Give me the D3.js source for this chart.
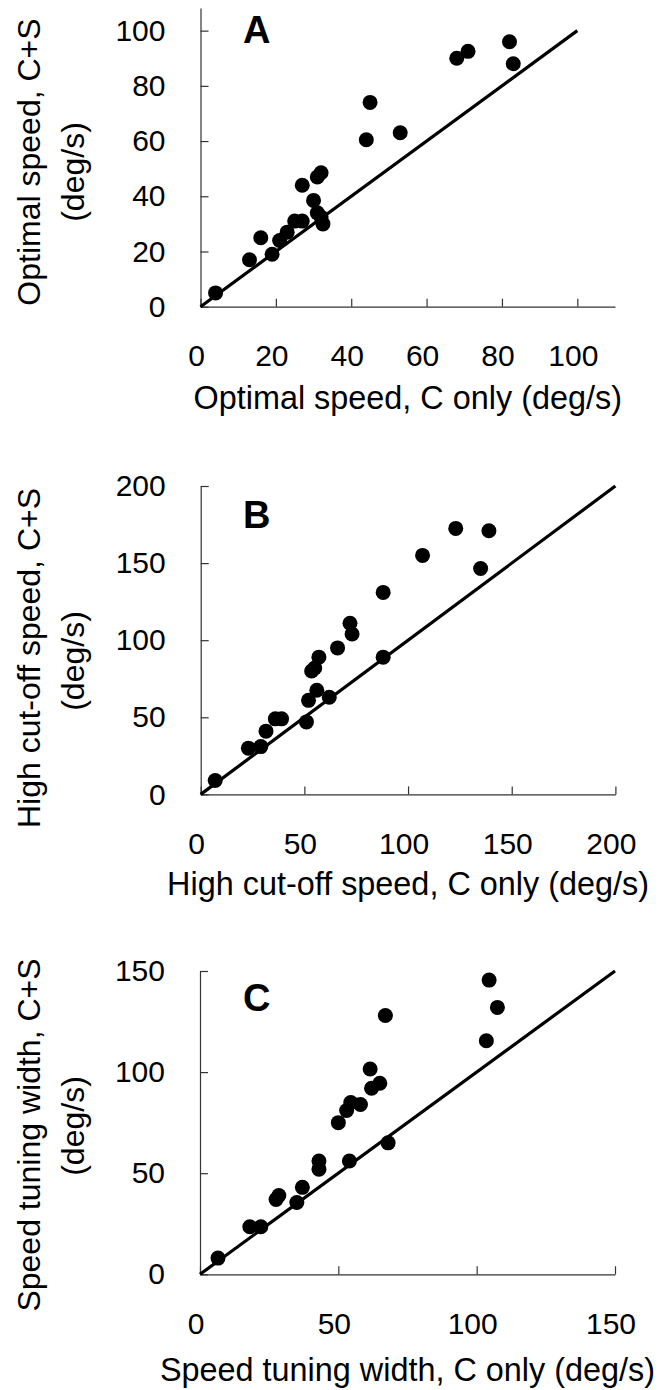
<!DOCTYPE html>
<html>
<head>
<meta charset="utf-8">
<script src="https://cdn.jsdelivr.net/npm/d3@7"></script>
<style>
  body { margin: 0; background: #fff; }
  svg { display: block; font-family: "Liberation Sans", Arial, Helvetica, sans-serif; }
  .axis path, .axis line { stroke: #333; stroke-width: 1.2; }
  .axis text { font-size: 30px; fill: #000; }
</style>
</head>
<body>
<svg id="chart" width="658" height="1390"></svg>
<script>
// --- data ---
var optC  = [4, 13, 16, 19, 21, 23, 25, 27, 27, 30, 31, 32, 31, 32.5, 32, 44, 45, 53, 68, 71, 82, 83];
var optCS = [5, 17, 25, 19, 24, 27, 31, 31, 44, 38.5, 47, 48.5, 34, 30, 32.5, 60.5, 74, 63, 90, 92.5, 96, 88];

var cutC  = [7, 23, 29, 31.5, 36, 39, 51, 52, 56, 62, 53.5, 55, 57, 66, 72, 73, 88, 88, 107, 123, 135, 139];
var cutCS = [9, 30, 31, 41, 49, 49, 47, 61, 67.5, 63, 80, 82, 89, 95, 111, 104, 89, 131, 155, 172.5, 146.5, 171];

var widthC  = [6.5, 18, 22, 27.5, 28.5, 35, 37, 43, 43, 54, 68, 50, 53, 54.5, 58, 62, 65, 61.5, 67, 103.5, 104.5, 107.5];
var widthCS = [8, 23.5, 23.5, 37, 39, 35.5, 43, 56, 52, 56, 65, 75, 81, 85, 84, 92, 94.5, 101.5, 128, 115.5, 145.5, 132];

var ticksA = [0, 20, 40, 60, 80, 100];
var ticksB = [0, 50, 100, 150, 200];
var ticksC = [0, 50, 100, 150];

var letters = ["A", "B", "C"];
var xTitles = ["Optimal speed, C only (deg/s)", "High cut-off speed, C only (deg/s)", "Speed tuning width, C only (deg/s)"];
var yTitles = [["Optimal speed, C+S", "(deg/s)"], ["High cut-off speed, C+S", "(deg/s)"], ["Speed tuning width, C+S", "(deg/s)"]];
var xMax = [110, 200, 150];
var yMax = [108.2, 200, 150];
var unityMax = [100, 200, 150];

// --- layout (pixels) ---
var panels = [
  { xs: optC, ys: optCS, ticks: ticksA, left: 200.5, right: 615, top: 8, bottom: 306.7, letterY: 43, t1: 162, t2: 172, xTitleY: 409 },
  { xs: cutC, ys: cutCS, ticks: ticksB, left: 200.7, right: 615.4, top: 486, bottom: 794.4, letterY: 528, t1: 658, t2: 661, xTitleY: 895 },
  { xs: widthC, ys: widthCS, ticks: ticksC, left: 200, right: 615, top: 971, bottom: 1274.3, letterY: 1011, t1: 1135, t2: 1126, xTitleY: 1381 }
];

var svg = d3.select("#chart");
svg.append("rect").attr("width", 658).attr("height", 1390).attr("fill", "#fff");

panels.forEach(function(p, k) {
  var x = d3.scaleLinear().domain([0, xMax[k]]).range([p.left, p.right]);
  var y = d3.scaleLinear().domain([0, yMax[k]]).range([p.bottom, p.top]);
  var g = svg.append("g");

  // axes, ticks pointing inward
  g.append("g").attr("class", "axis")
    .attr("transform", "translate(0," + p.bottom + ")")
    .call(d3.axisBottom(x).tickValues(p.ticks).tickSize(-8).tickSizeOuter(0).tickPadding(38))
    .selectAll("text").attr("dx", -4.5);

  g.append("g").attr("class", "axis")
    .attr("transform", "translate(" + p.left + ",0)")
    .call(d3.axisLeft(y).tickValues(p.ticks).tickSize(-8).tickSizeOuter(0).tickPadding(35));

  // unity line
  var line = d3.line().x(function(d) { return x(d); }).y(function(d) { return y(d); });
  g.append("path")
    .datum([0, unityMax[k]])
    .attr("d", line)
    .attr("fill", "none")
    .attr("stroke", "#000")
    .attr("stroke-width", 3.2);

  // points
  g.selectAll("circle")
    .data(d3.range(p.xs.length))
    .enter().append("circle")
      .attr("cx", function(i) { return x(p.xs[i]); })
      .attr("cy", function(i) { return y(p.ys[i]); })
      .attr("r", 7.5)
      .attr("fill", "#000");

  // panel letter
  g.append("text")
    .attr("x", 243).attr("y", p.letterY)
    .attr("font-size", 38).attr("font-weight", "bold")
    .text(letters[k]);

  // axis titles
  g.append("text")
    .attr("x", (p.left + p.right) / 2).attr("y", p.xTitleY)
    .attr("text-anchor", "middle").attr("font-size", 32.4)
    .text(xTitles[k]);

  g.append("text")
    .attr("transform", "translate(40," + p.t1 + ") rotate(-90)")
    .attr("text-anchor", "middle").attr("font-size", 32)
    .text(yTitles[k][0]);
  g.append("text")
    .attr("transform", "translate(84," + p.t2 + ") rotate(-90)")
    .attr("text-anchor", "middle").attr("font-size", 32)
    .text(yTitles[k][1]);
});
</script>
</body>
</html>
